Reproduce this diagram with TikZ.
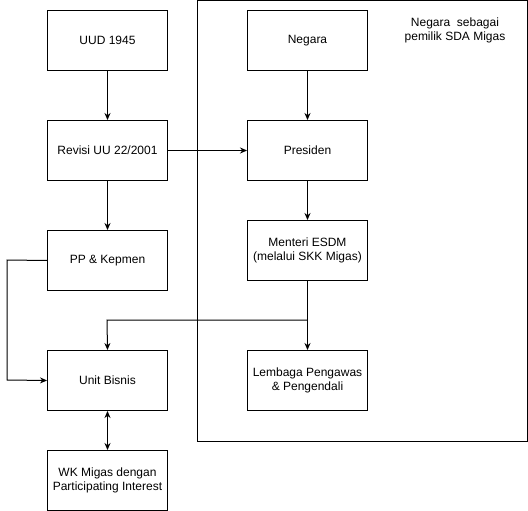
\documentclass[tikz,border=0pt]{standalone}
\usepackage{fontspec}
\setmainfont{Liberation Sans}
\usetikzlibrary{arrows.meta}
\begin{document}
\begin{tikzpicture}[x=1pt,y=-1pt,
  box/.style={draw,line width=1pt,minimum width=120pt,minimum height=60pt,align=center,inner sep=0pt,font=\fontsize{12}{14}\selectfont,anchor=north west},
  conn/.style={line width=1pt,-{Stealth[length=7pt,width=6pt]}},
  both/.style={line width=1pt,{Stealth[length=7pt,width=6pt]}-{Stealth[length=7pt,width=6pt]}}]
\useasboundingbox (0,0) rectangle (528,511);
\node[draw,line width=1pt,minimum width=330pt,minimum height=440pt,inner sep=0pt,anchor=north west] (cont) at (197,0.5) {};
\node[align=center,font=\fontsize{12}{14}\selectfont] (lbl) at (455,30) {Negara\ \ sebagai\\pemilik SDA Migas};
\node[box] (uud) at (47,10) {UUD 1945};
\node[box] (rev) at (47,120) {Revisi UU 22/2001};
\node[box] (pp) at (47,230) {PP \& Kepmen};
\node[box] (ub) at (47,350) {Unit Bisnis};
\node[box] (wk) at (47,450) {WK Migas dengan\\Participating Interest};
\node[box] (neg) at (247,10) {Negara};
\node[box] (pres) at (247,120) {Presiden};
\node[box] (men) at (247,220) {Menteri ESDM\\(melalui SKK Migas)};
\node[box] (lem) at (247,350) {Lembaga Pengawas\\\& Pengendali};
\coordinate (br) at (307,320);
\draw[conn] (uud) -- (rev);
\draw[conn] (rev) -- (pp);
\draw[both] (ub) -- (wk);
\draw[conn] (neg) -- (pres);
\draw[conn] (pres) -- (men);
\draw[conn] (men) -- (lem);
\draw[conn] (rev) -- (pres);
\draw[conn] (br) -- (107,320) -- (ub.north);
\draw[conn] (pp.west) -- (7,260) -- (7,380) -- (ub.west);
\end{tikzpicture}
\end{document}
